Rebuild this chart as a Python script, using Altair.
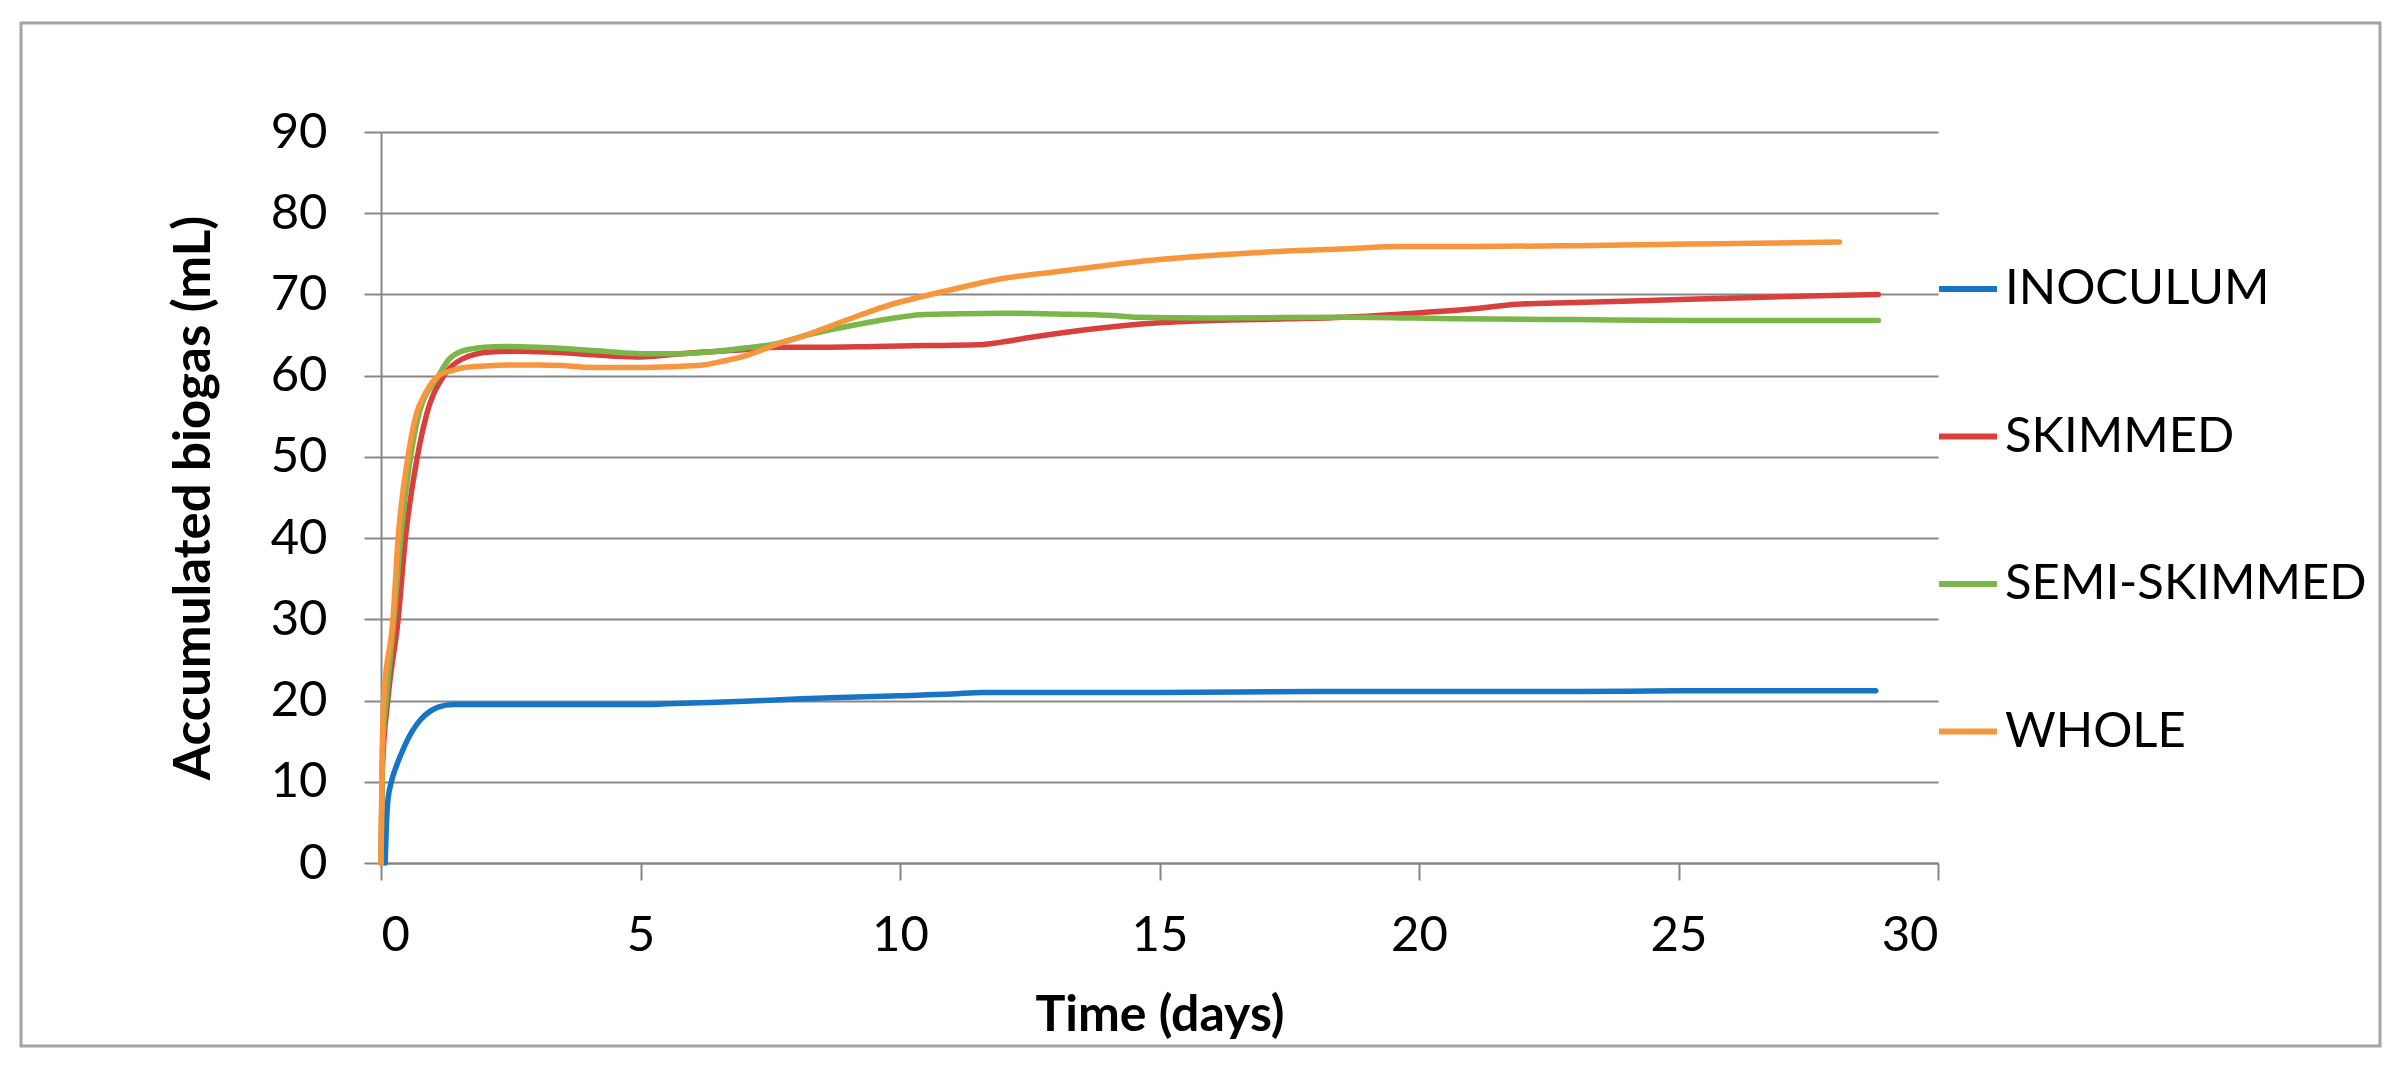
import altair as alt
import pandas as pd

series_names = ["INOCULUM", "SKIMMED", "SEMI-SKIMMED", "WHOLE"]
series_colors = ["#1874C4", "#D9403D", "#7AB648", "#F8963E"]

inoculum_days = [0.08, 0.10, 0.13, 0.2, 0.3, 0.42, 0.6, 0.77, 0.95, 1.1, 1.4, 2, 3, 4, 5, 5.5, 6, 7, 8, 9, 10, 11, 11.6, 13, 15, 18, 20, 23, 25, 28.8]
inoculum_vals = [0, 4, 7.5, 10, 12, 13.9, 16.2, 17.7, 18.7, 19.2, 19.5, 19.5, 19.5, 19.5, 19.5, 19.6, 19.7, 19.9, 20.2, 20.4, 20.6, 20.8, 21.0, 21.0, 21.0, 21.1, 21.1, 21.1, 21.2, 21.2]

skimmed_days = [0, 0.03, 0.13, 0.33, 0.47, 0.70, 0.87, 1.21, 1.55, 2.1, 2.6, 3.2, 3.8, 4.5, 5.0, 5.6, 6.2, 7.0, 7.6, 8.5, 9.5, 10.5, 11.5, 11.93, 12.5, 13.5, 14.7, 16.0, 17.45, 18.56, 19.67, 21.0, 21.9, 23.0, 24.1, 25.2, 26.3, 27.5, 28.85]
skimmed_vals = [0, 12, 20, 30, 40, 50, 55, 60, 62, 62.9, 63.0, 62.9, 62.7, 62.4, 62.3, 62.6, 62.9, 63.2, 63.5, 63.5, 63.6, 63.7, 63.8, 64.1, 64.7, 65.6, 66.4, 66.8, 67.0, 67.2, 67.6, 68.2, 68.8, 69.0, 69.2, 69.4, 69.6, 69.8, 70.0]

semi_days = [0, 0.03, 0.1, 0.25, 0.38, 0.57, 0.72, 1.11, 1.31, 1.55, 2.0, 2.4, 3.0, 3.6, 4.3, 5.0, 5.7, 6.5, 7.0, 7.6, 8.15, 8.7, 9.25, 9.8, 10.4, 11.0, 11.93, 13.0, 14.1, 14.5, 16.0, 18.56, 20.8, 23.0, 25.2, 28.85]
semi_vals = [0, 14, 20, 30, 40, 50, 55, 60, 62, 63, 63.5, 63.6, 63.5, 63.3, 63.0, 62.7, 62.7, 63.0, 63.4, 63.9, 64.9, 65.7, 66.4, 67.0, 67.5, 67.6, 67.7, 67.6, 67.4, 67.2, 67.1, 67.2, 67.0, 66.9, 66.8, 66.8]

whole_days = [0, 0.02, 0.05, 0.23, 0.33, 0.52, 0.67, 0.87, 1.11, 1.35, 1.6, 2.0, 2.5, 3.0, 3.5, 3.9, 4.5, 5.0, 5.6, 6.2, 6.6, 7.0, 7.6, 8.15, 8.7, 9.25, 9.8, 10.4, 11.0, 11.93, 13.0, 14.0, 15.0, 16.2, 17.45, 18.5, 19.67, 21.0, 23.0, 25.2, 26.5, 28.1]
whole_vals = [0, 12, 20, 30, 40, 50, 55, 58, 60, 60.6, 61.0, 61.2, 61.3, 61.3, 61.25, 61.05, 61.0, 61.0, 61.1, 61.3, 61.8, 62.4, 63.8, 64.9, 66.2, 67.5, 68.7, 69.7, 70.6, 71.9, 72.8, 73.6, 74.3, 74.9, 75.35, 75.6, 75.9, 75.9, 76.0, 76.2, 76.3, 76.45]

x_ticks = [0, 5, 10, 15, 20, 25, 30]
y_ticks = [0, 10, 20, 30, 40, 50, 60, 70, 80, 90]

rows = []
for name, ds, vs in zip(series_names,
                        [inoculum_days, skimmed_days, semi_days, whole_days],
                        [inoculum_vals, skimmed_vals, semi_vals, whole_vals]):
    for i, (d, v) in enumerate(zip(ds, vs)):
        rows.append({"series": name, "day": d, "biogas": v, "order": i})
df = pd.DataFrame(rows)

W, H = 1557, 731
GRID = "#878787"
FONT = "Lato"

lines = alt.Chart(df).mark_line(strokeWidth=5.5, interpolate="monotone", strokeCap="round").encode(
    x=alt.X("day:Q",
            scale=alt.Scale(domain=[0, 30], nice=False, zero=False),
            axis=alt.Axis(values=x_ticks, title="Time (days)", grid=False,
                          domainColor=GRID, domainWidth=2,
                          tickColor=GRID, tickWidth=2, tickSize=17,
                          labelFont=FONT, labelFontSize=49, labelColor="black",
                          labelBaseline="middle", labelPadding=55,
                          titleFont=FONT, titleFontSize=50, titleFontWeight="bold",
                          titleColor="black", titleX=W / 2, titleY=152,
                          titleBaseline="middle", titleAlign="center")),
    y=alt.Y("biogas:Q",
            scale=alt.Scale(domain=[0, 90], nice=False),
            axis=alt.Axis(values=y_ticks, title="Accumulated biogas (mL)", grid=True,
                          gridColor=GRID, gridWidth=2,
                          domainColor=GRID, domainWidth=2,
                          tickColor=GRID, tickWidth=2, tickSize=17,
                          labelFont=FONT, labelFontSize=49, labelColor="black",
                          labelPadding=37,
                          titleFont=FONT, titleFontSize=51, titleFontWeight="bold",
                          titleColor="black", titleX=-187, titleY=H / 2,
                          titleAngle=270, titleBaseline="middle", titleAlign="center")),
    color=alt.Color("series:N",
                    scale=alt.Scale(domain=series_names, range=series_colors),
                    legend=alt.Legend(title=None, orient="none", legendX=1555, legendY=125,
                                      symbolType="stroke", symbolSize=3364, symbolStrokeWidth=6,
                                      labelFont=FONT, labelFontSize=49, labelColor="black",
                                      labelLimit=600, rowPadding=90.5, padding=0, labelOffset=5)),
    order="order:Q",
)

border = alt.Chart(pd.DataFrame({"a": [0]})).mark_rect(
    fillOpacity=0, stroke="#A3A3A3", strokeWidth=3
).encode(
    x=alt.value(-360), x2=alt.value(1999), y=alt.value(-109), y2=alt.value(914)
)

chart = alt.layer(border, lines).properties(
    width=W, height=H,
    autosize=alt.AutoSizeParams(type="none"),
    padding={"left": 373, "top": 124, "right": 450, "bottom": 190},
    background="white",
).configure_view(strokeWidth=0)

chart.save("out.html", embed_options={"renderer": "svg", "actions": False})
